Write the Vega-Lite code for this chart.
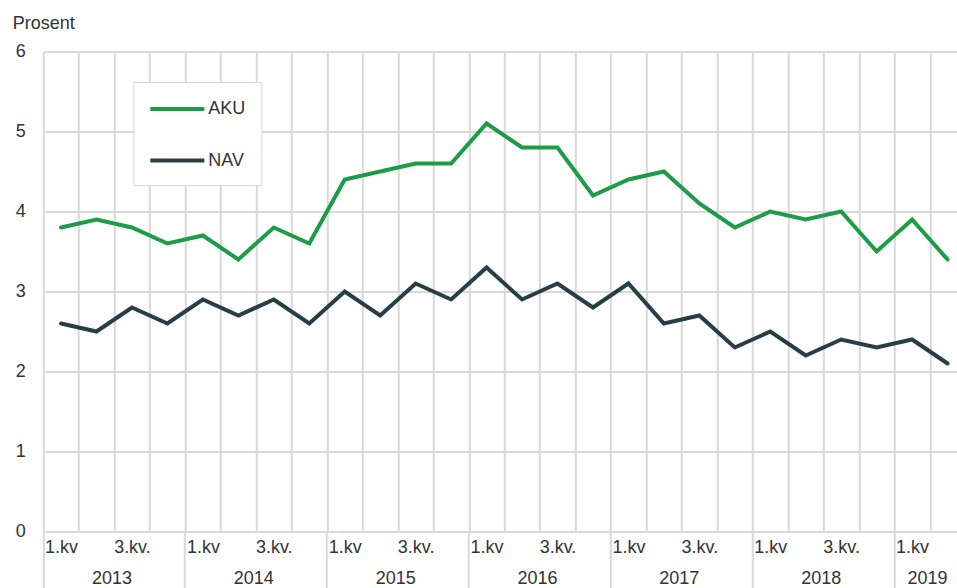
{
  "$schema": "https://vega.github.io/schema/vega-lite/v6.json",
  "width": 922,
  "height": 480,
  "autosize": {"type": "none"},
  "padding": {"left": 43.3, "top": 51.5, "right": 0, "bottom": 56.5},
  "background": "white",
  "config": {"font": "Liberation Sans", "view": {"stroke": null}},
  "data": {"values": [
    {"q": "2013-Q1", "s": "AKU", "v": 3.8}, {"q": "2013-Q2", "s": "AKU", "v": 3.9}, {"q": "2013-Q3", "s": "AKU", "v": 3.8}, {"q": "2013-Q4", "s": "AKU", "v": 3.6},
    {"q": "2014-Q1", "s": "AKU", "v": 3.7}, {"q": "2014-Q2", "s": "AKU", "v": 3.4}, {"q": "2014-Q3", "s": "AKU", "v": 3.8}, {"q": "2014-Q4", "s": "AKU", "v": 3.6},
    {"q": "2015-Q1", "s": "AKU", "v": 4.4}, {"q": "2015-Q2", "s": "AKU", "v": 4.5}, {"q": "2015-Q3", "s": "AKU", "v": 4.6}, {"q": "2015-Q4", "s": "AKU", "v": 4.6},
    {"q": "2016-Q1", "s": "AKU", "v": 5.1}, {"q": "2016-Q2", "s": "AKU", "v": 4.8}, {"q": "2016-Q3", "s": "AKU", "v": 4.8}, {"q": "2016-Q4", "s": "AKU", "v": 4.2},
    {"q": "2017-Q1", "s": "AKU", "v": 4.4}, {"q": "2017-Q2", "s": "AKU", "v": 4.5}, {"q": "2017-Q3", "s": "AKU", "v": 4.1}, {"q": "2017-Q4", "s": "AKU", "v": 3.8},
    {"q": "2018-Q1", "s": "AKU", "v": 4.0}, {"q": "2018-Q2", "s": "AKU", "v": 3.9}, {"q": "2018-Q3", "s": "AKU", "v": 4.0}, {"q": "2018-Q4", "s": "AKU", "v": 3.5},
    {"q": "2019-Q1", "s": "AKU", "v": 3.9}, {"q": "2019-Q2", "s": "AKU", "v": 3.4},
    {"q": "2013-Q1", "s": "NAV", "v": 2.6}, {"q": "2013-Q2", "s": "NAV", "v": 2.5}, {"q": "2013-Q3", "s": "NAV", "v": 2.8}, {"q": "2013-Q4", "s": "NAV", "v": 2.6},
    {"q": "2014-Q1", "s": "NAV", "v": 2.9}, {"q": "2014-Q2", "s": "NAV", "v": 2.7}, {"q": "2014-Q3", "s": "NAV", "v": 2.9}, {"q": "2014-Q4", "s": "NAV", "v": 2.6},
    {"q": "2015-Q1", "s": "NAV", "v": 3.0}, {"q": "2015-Q2", "s": "NAV", "v": 2.7}, {"q": "2015-Q3", "s": "NAV", "v": 3.1}, {"q": "2015-Q4", "s": "NAV", "v": 2.9},
    {"q": "2016-Q1", "s": "NAV", "v": 3.3}, {"q": "2016-Q2", "s": "NAV", "v": 2.9}, {"q": "2016-Q3", "s": "NAV", "v": 3.1}, {"q": "2016-Q4", "s": "NAV", "v": 2.8},
    {"q": "2017-Q1", "s": "NAV", "v": 3.1}, {"q": "2017-Q2", "s": "NAV", "v": 2.6}, {"q": "2017-Q3", "s": "NAV", "v": 2.7}, {"q": "2017-Q4", "s": "NAV", "v": 2.3},
    {"q": "2018-Q1", "s": "NAV", "v": 2.5}, {"q": "2018-Q2", "s": "NAV", "v": 2.2}, {"q": "2018-Q3", "s": "NAV", "v": 2.4}, {"q": "2018-Q4", "s": "NAV", "v": 2.3},
    {"q": "2019-Q1", "s": "NAV", "v": 2.4}, {"q": "2019-Q2", "s": "NAV", "v": 2.1}
  ]},
  "layer": [
    {
      "mark": {"type": "line", "strokeWidth": 4, "strokeCap": "round"},
      "encoding": {
        "x": {"field": "q", "type": "ordinal", "scale": {"type": "band", "paddingInner": 0, "paddingOuter": 0},
          "axis": {"orient": "bottom", "title": null, "tickBand": "extent", "grid": true, "gridColor": "#d9d9d9", "gridWidth": 2, "ticks": false, "domain": true, "domainColor": "#d9d9d9", "domainWidth": 2,
            "labelExpr": "indexof(datum.value + '', '-Q1') > 0 ? '1.kv' : (indexof(datum.value + '', '-Q3') > 0 ? '3.kv.' : '')",
            "labelFontSize": 18, "labelColor": "#333333", "labelPadding": 7, "labelOverlap": false, "labelAngle": 0, "labelBound": false}},
        "y": {"field": "v", "type": "quantitative", "scale": {"domain": [0, 6]},
          "axis": {"title": "Prosent", "titleAngle": 0, "titleAlign": "left", "titleBaseline": "alphabetic", "titleX": -31, "titleY": -23, "titleFontSize": 18, "titleFontWeight": "normal", "titleColor": "#333333",
            "values": [0, 1, 2, 3, 4, 5, 6], "format": "d", "grid": true, "gridColor": "#d9d9d9", "gridWidth": 2, "ticks": false, "domain": false, "labelFontSize": 18, "labelPadding": 18, "labelColor": "#333333"}},
        "color": {"field": "s", "type": "nominal", "scale": {"domain": ["AKU", "NAV"], "range": ["#1c9c48", "#263f47"]},
          "legend": {"title": null, "orient": "none", "legendX": 90, "legendY": 30.5, "direction": "vertical", "fillColor": "white", "strokeColor": "#d9d9d9",
            "padding": 15, "symbolType": "M-1,0H4.4", "symbolSize": 400, "symbolStrokeWidth": 4, "labelFontSize": 18, "labelColor": "#333333", "labelOffset": 36, "rowPadding": 30.5}}
      }
    },
    {
      "mark": {"type": "line", "opacity": 0},
      "encoding": {
        "x": {"field": "q", "type": "ordinal",
          "axis": {"orient": "bottom", "title": null, "bandPosition": 0, "grid": false, "domain": false, "ticks": true, "tickSize": 60, "tickColor": "#d9d9d9", "tickWidth": 2,
            "tickOpacity": {"condition": {"test": "indexof(datum.value + '', '-Q1') > 0", "value": 1}, "value": 0},
            "labelExpr": "(indexof(datum.value + '', '-Q3') > 0 || datum.value == '2019-Q2') ? substring(datum.value + '', 0, 4) : ''",
            "labelAlign": "right", "labelPadding": -22, "labelFontSize": 18, "labelColor": "#333333", "labelOverlap": false, "labelAngle": 0, "labelBound": false, "offset": 0}},
        "y": {"field": "v", "type": "quantitative"},
        "detail": {"field": "s"}
      }
    }
  ],
  "resolve": {"axis": {"x": "independent"}}
}
